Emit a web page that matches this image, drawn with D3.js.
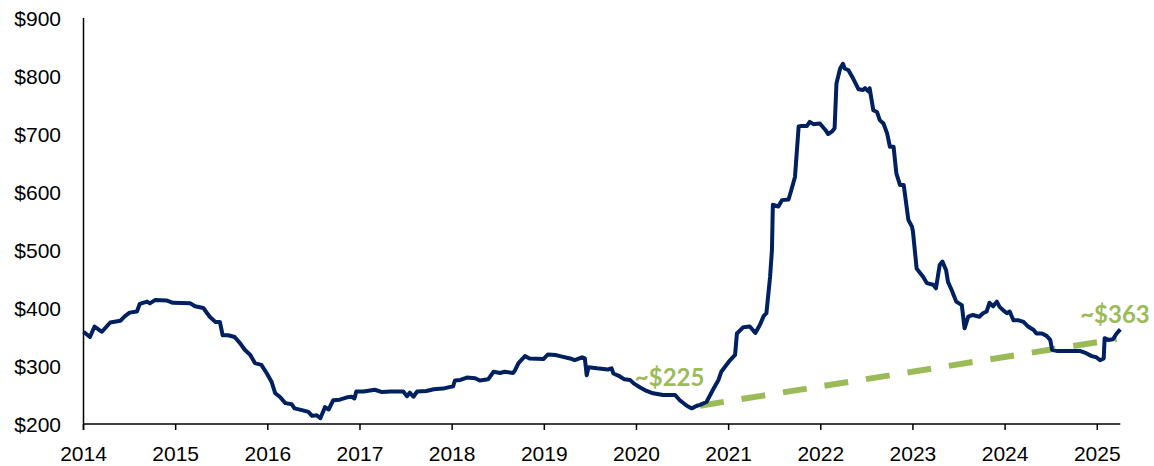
<!DOCTYPE html>
<html>
<head>
<meta charset="utf-8">
<script src="https://cdn.jsdelivr.net/npm/d3@7"></script>
<style>
  body { margin: 0; background: #fff; }
  .axis-text { font-family: "Liberation Sans", Arial, sans-serif; font-size: 21px; fill: #000; }
  .note { font-family: Lato, "Open Sans", sans-serif; font-weight: bold; font-size: 24px; fill: #9bbb59; }
</style>
</head>
<body>
<div id="svgcontainer"></div>
<script>
// decimal years
var years = [
  2014.00, 2014.07, 2014.12, 2014.20, 2014.29, 2014.40, 2014.45, 2014.50, 2014.58, 2014.61,
  2014.69, 2014.72, 2014.78, 2014.90, 2014.97, 2015.16, 2015.21, 2015.30, 2015.37, 2015.43,
  2015.48, 2015.51, 2015.57, 2015.64, 2015.70, 2015.75, 2015.81, 2015.86, 2015.93, 2015.99,
  2016.04, 2016.08, 2016.13, 2016.19, 2016.26, 2016.29, 2016.37, 2016.44, 2016.48, 2016.53,
  2016.57, 2016.62, 2016.66, 2016.71, 2016.78, 2016.86, 2016.91, 2016.94, 2016.96, 2017.04,
  2017.16, 2017.24, 2017.33, 2017.47, 2017.51, 2017.54, 2017.58, 2017.62, 2017.72, 2017.80,
  2017.90, 2017.98, 2018.01, 2018.03, 2018.09, 2018.16, 2018.25, 2018.30, 2018.39, 2018.45,
  2018.52, 2018.57, 2018.66, 2018.68, 2018.72, 2018.79, 2018.84, 2018.99, 2019.04, 2019.12,
  2019.17, 2019.28, 2019.33, 2019.41, 2019.44, 2019.46, 2019.48, 2019.57, 2019.69, 2019.73,
  2019.75, 2019.82, 2019.87, 2019.93, 2019.97, 2020.04, 2020.11, 2020.18, 2020.29, 2020.42,
  2020.47, 2020.55, 2020.60, 2020.65, 2020.69, 2020.76, 2020.83, 2020.89, 2020.92, 2021.00,
  2021.07, 2021.09, 2021.16, 2021.23, 2021.29, 2021.34, 2021.38, 2021.41, 2021.45, 2021.47,
  2021.48, 2021.54, 2021.58, 2021.65, 2021.68, 2021.72, 2021.76, 2021.79, 2021.85, 2021.88,
  2021.92, 2021.99, 2022.05, 2022.08, 2022.12, 2022.15, 2022.17, 2022.21, 2022.24, 2022.26,
  2022.30, 2022.35, 2022.41, 2022.46, 2022.48, 2022.52, 2022.53, 2022.57, 2022.61, 2022.64,
  2022.68, 2022.72, 2022.75, 2022.79, 2022.82, 2022.86, 2022.90, 2022.95, 2022.99, 2023.00,
  2023.04, 2023.08, 2023.11, 2023.15, 2023.22, 2023.25, 2023.29, 2023.32, 2023.36, 2023.38,
  2023.42, 2023.47, 2023.53, 2023.56, 2023.60, 2023.65, 2023.72, 2023.76, 2023.80, 2023.83,
  2023.87, 2023.91, 2023.94, 2023.98, 2024.02, 2024.05, 2024.09, 2024.14, 2024.20, 2024.25,
  2024.31, 2024.34, 2024.40, 2024.45, 2024.49, 2024.51, 2024.56, 2024.81, 2024.88, 2024.94,
  2024.99, 2025.03, 2025.07, 2025.08, 2025.12, 2025.17, 2025.21, 2025.25
];
var prices = [
  359, 350, 368, 359, 375, 378, 386, 392, 394, 407,
  411, 408, 414, 413, 409, 408, 403, 400, 385, 376,
  376, 353, 353, 350, 339, 328, 319, 305, 302, 287,
  273, 253, 247, 236, 234, 227, 224, 221, 214, 215,
  210, 229, 225, 241, 242, 246, 247, 244, 256, 256,
  259, 255, 256, 256, 248, 254, 247, 256, 257, 260,
  261, 264, 265, 275, 276, 280, 279, 275, 277, 290,
  288, 290, 288, 292, 305, 317, 313, 312, 320, 319,
  317, 313, 310, 315, 313, 284, 298, 296, 294, 296,
  287, 282, 277, 276, 270, 263, 257, 253, 250, 250,
  241, 231, 227, 231, 233, 238, 259, 276, 290, 307,
  319, 356, 367, 368, 357, 371, 386, 391, 454, 500,
  578, 575, 586, 587, 603, 626, 713, 714, 714, 721,
  717, 718, 707, 700, 704, 710, 787, 813, 821, 813,
  810, 796, 777, 776, 779, 773, 779, 741, 738, 724,
  718, 701, 678, 678, 632, 612, 612, 552, 540, 532,
  468, 460, 454, 443, 440, 434, 474, 480, 465, 445,
  431, 411, 405, 365, 385, 388, 385, 391, 394, 409,
  403, 411, 402, 396, 391, 394, 379, 379, 376, 368,
  362, 356, 356, 352, 345, 328, 326, 326, 322, 317,
  315, 310, 313, 348, 345, 346, 356, 363
];
var trendYears = [2020.69, 2025.21];
var trendPrices = [231.6, 346.5];
var yTicks = [200, 300, 400, 500, 600, 700, 800, 900];
var xTicks = [2014, 2015, 2016, 2017, 2018, 2019, 2020, 2021, 2022, 2023, 2024, 2025];
var notes = [
  { label: "~$225", year: 2020.36, price: 266, anchor: "middle" },
  { label: "~$363", year: 2025.57, price: 374, anchor: "end" }
];

var width = 1154;
var height = 466;

function drawChart() {
    var svg = d3.select("#svgcontainer").append("svg").attr("width", width).attr("height", height);

    var x = d3.scaleLinear().domain([2014, 2025.25]).range([83.5, 1120.3]);
    var y = d3.scaleLinear().domain([200, 900]).range([424, 18]);

    // axes
    svg.append("line").attr("x1", x(2014)).attr("x2", x(2014)).attr("y1", y(900)).attr("y2", y(200) + 6)
        .attr("stroke", "#000").attr("stroke-width", 1.5);
    svg.append("line").attr("x1", x(2014)).attr("x2", x(2025.25)).attr("y1", y(200)).attr("y2", y(200))
        .attr("stroke", "#000").attr("stroke-width", 1.5);

    svg.selectAll("line.xtick").data(xTicks).enter().append("line").attr("class", "xtick")
        .attr("x1", function(d) { return x(d); }).attr("x2", function(d) { return x(d); })
        .attr("y1", y(200)).attr("y2", y(200) + 6)
        .attr("stroke", "#000").attr("stroke-width", 1.5);

    svg.selectAll("text.xlab").data(xTicks).enter().append("text").attr("class", "xlab axis-text")
        .attr("x", function(d) { return x(d); }).attr("y", 461)
        .attr("text-anchor", "middle")
        .text(function(d) { return d; });

    svg.selectAll("text.ylab").data(yTicks).enter().append("text").attr("class", "ylab axis-text")
        .attr("x", 61).attr("y", function(d) { return y(d); }).attr("dy", "0.36em")
        .attr("text-anchor", "end")
        .text(function(d) { return "$" + d; });

    // trend line (dashed green)
    var trend = trendYears.map(function(d, i) { return [d, trendPrices[i]]; });
    svg.append("path").datum(trend)
        .attr("d", d3.line().x(function(d) { return x(d[0]); }).y(function(d) { return y(d[1]); }))
        .attr("fill", "none").attr("stroke", "#9bbb59").attr("stroke-width", 6)
        .attr("stroke-dasharray", "24,18");

    // price line
    var series = years.map(function(d, i) { return [d, prices[i]]; });
    svg.append("path").datum(series)
        .attr("d", d3.line().x(function(d) { return x(d[0]); }).y(function(d) { return y(d[1]); }))
        .attr("fill", "none").attr("stroke", "#002060").attr("stroke-width", 4)
        .attr("stroke-linejoin", "round");

    svg.selectAll("text.note").data(notes).enter().append("text").attr("class", "note")
        .attr("x", function(d) { return x(d.year); })
        .attr("y", function(d) { return y(d.price); })
        .attr("text-anchor", function(d) { return d.anchor; })
        .text(function(d) { return d.label; });
}

drawChart();
</script>
</body>
</html>
